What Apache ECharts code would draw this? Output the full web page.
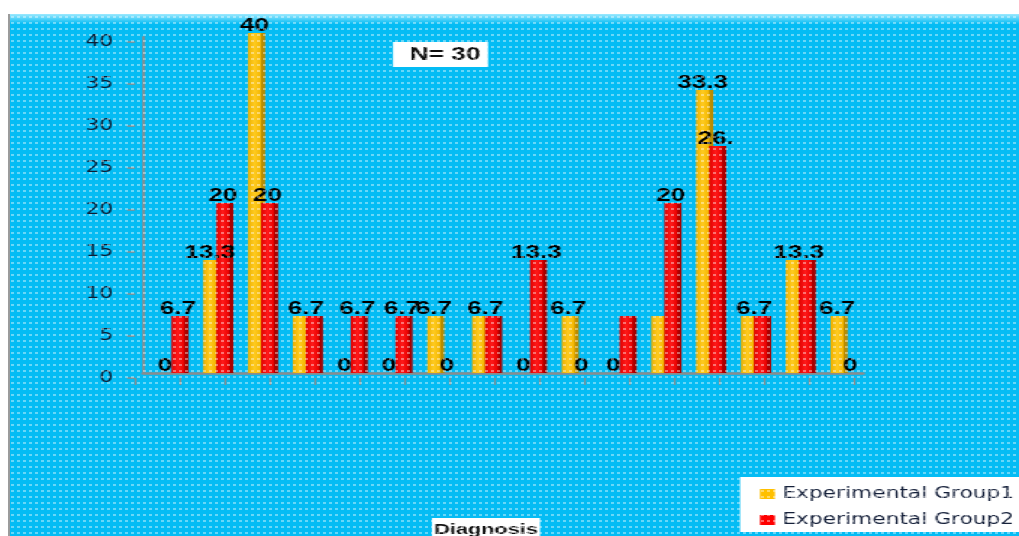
<!DOCTYPE html>
<html><head><meta charset="utf-8">
<script src="https://cdn.jsdelivr.net/npm/echarts/dist/echarts.min.js"></script>
<style>
html,body{margin:0;padding:0;background:#fff;width:1019px;height:536px;overflow:hidden;position:relative}
#bg{position:absolute;left:8px;top:14px;width:1011px;height:522px;background:#04BCF4;border-left:2px solid #9b9b9b;box-sizing:border-box}
#hl{position:absolute;left:10px;top:14px;width:1009px;height:10px;background:linear-gradient(#9be9ff, rgba(6,189,244,0))}
#chart{position:absolute;left:0;top:0;width:703px;height:536px;transform:scaleX(1.44950213);transform-origin:0 0}
#dots{position:absolute;left:10px;top:14px;width:1009px;height:522px;pointer-events:none}
</style></head>
<body>
<div id="bg"></div><div id="hl"></div>
<div id="chart"></div>
<div id="dots"></div>
<script>
// ---- data ----
const categories = ['1','2','3','4','5','6','7','8','9','10','11','12','13','14','15','16'];
const group1 = [0, 13.3, 40, 6.7, 0, 0, 6.7, 6.7, 0, 6.7, 0, 6.7, 33.3, 6.7, 13.3, 6.7];
const group2 = [6.7, 20, 20, 6.7, 6.7, 6.7, 0, 6.7, 13.3, 0, 6.7, 20, 26.7, 6.7, 13.3, 0];
const group1Labels = ['0','13.3','40','6.7','0','0','6.7','6.7','0','6.7','0','','33.3','6.7','13.3','6.7'];
const group2Labels = ['6.7','20','20','','6.7','6.7','0','','13.3','0','','20','26.','','','0'];
const yTicks = [0, 5, 10, 15, 20, 25, 30, 35, 40];
const seriesNames = ['Experimental Group1', 'Experimental Group2'];

// ---- layout (horizontal stretch like the reference) ----
const S = 1019 / 703;
const sx = px => px / S;
const BW = 9;

const dotSvg = "<svg xmlns='http://www.w3.org/2000/svg' width='6' height='6'><rect x='1' y='2' width='3' height='2' fill='white' fill-opacity='0.4'/></svg>";
document.getElementById('dots').style.backgroundImage = 'url("data:image/svg+xml;charset=utf-8,' + encodeURIComponent(dotSvg) + '")';

const chart = echarts.init(document.getElementById('chart'), null, {renderer: 'canvas'});

function grad(c1, c2, c3) {
  return new echarts.graphic.LinearGradient(0, 0, 1, 0, [
    {offset: 0, color: c1}, {offset: 0.5, color: c2}, {offset: 1, color: c3}]);
}
const labelBase = {show: true, position: 'top', distance: -2, fontFamily: 'Liberation Sans',
  fontWeight: 'bold', fontSize: 18, color: '#000'};

const d1 = group1.map((v, i) => {
  const item = {value: v};
  if (group2Labels[i] === '' && group2[i] === v && group1Labels[i] !== '') item.label = {offset: [BW / 2, 0]};
  return item;
});
const d2 = group2.map(v => ({value: v}));

const hidden = {show: false};
const option = {
  animation: false,
  backgroundColor: 'transparent',
  grid: [
    {left: sx(149), top: 33, width: sx(717), bottom: 163},
    {left: sx(143), top: 37, width: sx(720), bottom: 163},
    {left: sx(135), top: 42, width: sx(719), bottom: 158}
  ],
  xAxis: [
    {type: 'category', gridIndex: 0, data: categories, axisLine: hidden, axisTick: hidden, axisLabel: hidden, splitLine: hidden},
    {type: 'category', gridIndex: 1, data: categories, axisLine: {show: true, lineStyle: {color: '#8c8c8c', width: 2.5}}, axisTick: hidden, axisLabel: hidden, splitLine: hidden},
    {type: 'category', gridIndex: 2, data: categories, boundaryGap: true, axisLine: hidden,
      axisTick: {show: true, alignWithLabel: false, length: 7, lineStyle: {color: '#8c8c8c', width: 1.2}}, axisLabel: hidden, splitLine: hidden}
  ],
  yAxis: [
    {type: 'value', gridIndex: 0, min: 0, max: 40, axisLine: hidden, axisTick: hidden, axisLabel: hidden, splitLine: hidden},
    {type: 'value', gridIndex: 1, min: 0, max: 40, axisLine: {show: true, lineStyle: {color: '#8c8c8c', width: 1.8}}, axisTick: hidden, axisLabel: hidden, splitLine: hidden},
    {type: 'value', gridIndex: 2, min: yTicks[0], max: yTicks[yTicks.length - 1], interval: yTicks[1] - yTicks[0],
      axisLine: hidden, splitLine: hidden,
      axisTick: {show: true, length: sx(8), lineStyle: {color: '#8c8c8c', width: 1.5}},
      axisLabel: {show: true, margin: 15, fontFamily: 'DejaVu Sans', fontSize: 15, color: '#0e1c33'}}
  ],
  legend: {
    orient: 'vertical', left: sx(752.7), top: 481, itemWidth: sx(15), itemHeight: 10, itemGap: 10,
    icon: 'rect',
    textStyle: {fontFamily: 'DejaVu Sans', fontSize: 15, color: '#15203a', lineHeight: 16},
    data: [
      {name: seriesNames[0], itemStyle: {color: '#FFC000', shadowColor: 'transparent', shadowOffsetX: 0}},
      {name: seriesNames[1], itemStyle: {color: '#FF0000', shadowColor: 'transparent', shadowOffsetX: 0}}
    ]
  },
  graphic: [
    {type: 'rect', z: 10, shape: {x: sx(393), y: 42, width: sx(95), height: 25}, style: {fill: '#fff'}},
    {type: 'text', z: 11, x: sx(410), y: 55, style: {text: 'N= 30', font: 'bold 18px "Liberation Sans"', fill: '#111', textVerticalAlign: 'middle', verticalAlign: 'middle'}},
    {type: 'rect', z: 10, shape: {x: sx(432), y: 518, width: sx(108), height: 20}, style: {fill: '#fff'}},
    {type: 'text', z: 11, x: sx(486), y: 530, style: {text: 'Diagnosis', font: 'bold 15px "Liberation Sans"', fill: '#111', align: 'center', textAlign: 'center', verticalAlign: 'middle', textVerticalAlign: 'middle'}},
    {type: 'rect', z: 1, shape: {x: sx(740), y: 477, width: sx(279), height: 55}, style: {fill: '#fff'}}
  ],
  series: [
    {name: seriesNames[0], type: 'bar', xAxisIndex: 0, yAxisIndex: 0, barWidth: BW, barGap: '0%', data: d1,
      itemStyle: {color: grad('#EDB000', '#FFCB20', '#F3B600'), shadowColor: '#B98C00', shadowOffsetX: 2.8, shadowOffsetY: 0, shadowBlur: 0},
      label: Object.assign({}, labelBase, {formatter: p => group1Labels[p.dataIndex]})},
    {name: seriesNames[1], type: 'bar', xAxisIndex: 0, yAxisIndex: 0, barWidth: BW, barGap: '0%', data: d2,
      itemStyle: {color: grad('#E00000', '#FF1A1A', '#E80000'), shadowColor: '#A80000', shadowOffsetX: 2.8, shadowOffsetY: 0, shadowBlur: 0},
      label: Object.assign({}, labelBase, {formatter: p => group2Labels[p.dataIndex]})}
  ]
};
chart.setOption(option);
</script>
</body></html>
